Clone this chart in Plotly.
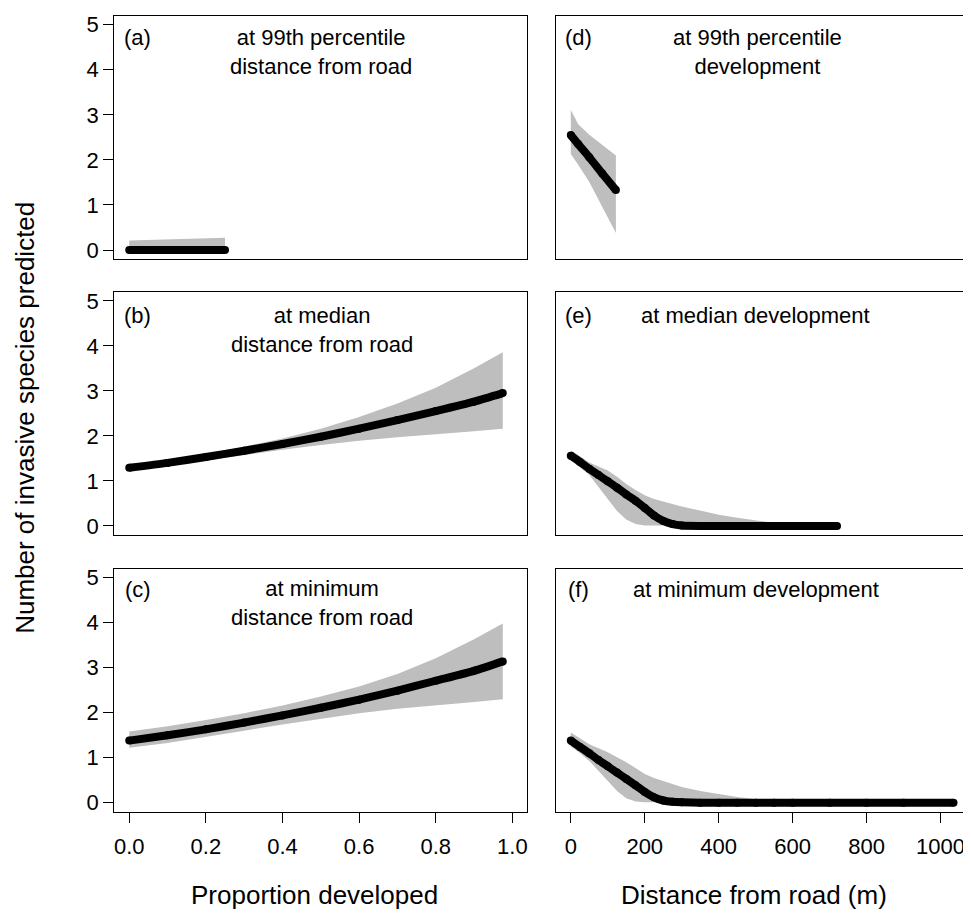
import plotly.graph_objects as go

# ---------------- data ----------------
# Left column: x = proportion developed
x_a = [0.0, 0.05, 0.10, 0.15, 0.20, 0.25]
fit_a = [0.0, 0.0, 0.0, 0.0, 0.0, 0.0]
up_a = [0.21, 0.22, 0.23, 0.245, 0.26, 0.275]
lo_a = [0.0, 0.0, 0.0, 0.0, 0.0, 0.0]

x_bc = [0.0, 0.1, 0.2, 0.3, 0.4, 0.5, 0.6, 0.7, 0.8, 0.9, 0.975]
fit_b = [1.29, 1.40, 1.53, 1.67, 1.82, 1.98, 2.16, 2.35, 2.55, 2.76, 2.95]
up_b = [1.36, 1.47, 1.60, 1.76, 1.94, 2.16, 2.42, 2.72, 3.07, 3.50, 3.86]
lo_b = [1.22, 1.33, 1.45, 1.57, 1.69, 1.80, 1.89, 1.97, 2.04, 2.10, 2.16]

fit_c = [1.38, 1.50, 1.63, 1.78, 1.94, 2.11, 2.29, 2.49, 2.71, 2.93, 3.14]
up_c = [1.58, 1.70, 1.84, 1.99, 2.16, 2.36, 2.58, 2.86, 3.21, 3.63, 3.98]
lo_c = [1.22, 1.33, 1.46, 1.60, 1.74, 1.87, 1.99, 2.09, 2.17, 2.24, 2.30]

# Right column: x = distance from road (m)
x_d = [0, 20, 50, 85, 122]
fit_d = [2.55, 2.35, 2.06, 1.70, 1.33]
up_d = [3.11, 2.79, 2.56, 2.33, 2.10]
lo_d = [2.13, 1.89, 1.51, 0.95, 0.38]

x_e = [0, 25, 50, 75, 100, 125, 150, 175, 200, 225, 250, 275, 300, 350, 400,
       450, 500, 550, 600, 650, 720]
fit_e = [1.56, 1.42, 1.27, 1.13, 0.99, 0.85, 0.70, 0.56, 0.40, 0.23, 0.11, 0.04,
         0.01, 0.0, 0.0, 0.0, 0.0, 0.0, 0.0, 0.0, 0.0]
up_e = [1.68, 1.55, 1.41, 1.32, 1.23, 1.09, 0.93, 0.80, 0.68, 0.60, 0.54, 0.48,
        0.43, 0.34, 0.25, 0.18, 0.12, 0.07, 0.04, 0.02, 0.01]
lo_e = [1.50, 1.30, 1.13, 0.88, 0.60, 0.33, 0.14, 0.04, 0.01, 0.0, 0.0, 0.0,
        0.0, 0.0, 0.0, 0.0, 0.0, 0.0, 0.0, 0.0, 0.0]

x_f = [0, 25, 50, 75, 100, 125, 150, 175, 200, 225, 250, 275, 300, 350, 400,
       450, 500, 550, 600, 700, 800, 900, 1035]
fit_f = [1.38, 1.24, 1.10, 0.95, 0.81, 0.67, 0.53, 0.39, 0.24, 0.12, 0.05, 0.02,
         0.01, 0.0, 0.0, 0.0, 0.0, 0.0, 0.0, 0.0, 0.0, 0.0, 0.0]
up_f = [1.56, 1.42, 1.30, 1.21, 1.12, 1.01, 0.90, 0.77, 0.64, 0.55, 0.48, 0.41,
        0.35, 0.26, 0.19, 0.13, 0.08, 0.05, 0.03, 0.01, 0.01, 0.01, 0.01]
lo_f = [1.25, 1.10, 0.93, 0.70, 0.48, 0.26, 0.10, 0.03, 0.01, 0.0, 0.0, 0.0,
        0.0, 0.0, 0.0, 0.0, 0.0, 0.0, 0.0, 0.0, 0.0, 0.0, 0.0]

panel_labels = ["(a)", "(b)", "(c)", "(d)", "(e)", "(f)"]
panel_titles = ["at 99th percentile<br>distance from road",
                "at median<br>distance from road",
                "at minimum<br>distance from road",
                "at 99th percentile<br>development",
                "at median development",
                "at minimum development"]
y_ticks = [0, 1, 2, 3, 4, 5]
x_ticks_left = [0.0, 0.2, 0.4, 0.6, 0.8, 1.0]
x_ticks_left_text = ["0.0", "0.2", "0.4", "0.6", "0.8", "1.0"]
x_ticks_right = [0, 200, 400, 600, 800, 1000]
y_title = "Number of invasive species predicted"
x_title_left = "Proportion developed"
x_title_right = "Distance from road (m)"

# ---------------- figure ----------------
PAGE_W, PAGE_H = 971, 913
OFF = 8                      # default page body margin
W, H = PAGE_W - OFF, PAGE_H - OFF
FONT = "Liberation Sans, Arial, sans-serif"
GRAY = "#BEBEBE"

panels = [
    (x_a, fit_a, up_a, lo_a),
    (x_bc, fit_b, up_b, lo_b),
    (x_bc, fit_c, up_c, lo_c),
    (x_d, fit_d, up_d, lo_d),
    (x_e, fit_e, up_e, lo_e),
    (x_f, fit_f, up_f, lo_f),
]

fig = go.Figure()
for i, (xs, fit, up, lo) in enumerate(panels):
    suffix = "" if i == 0 else str(i + 1)
    xa, ya = "x" + suffix, "y" + suffix
    fig.add_trace(go.Scatter(
        x=list(xs) + list(xs)[::-1], y=list(up) + list(lo)[::-1],
        fill="toself", fillcolor=GRAY, line=dict(width=0, color=GRAY),
        mode="lines", hoverinfo="skip", showlegend=False, xaxis=xa, yaxis=ya))
    fig.add_trace(go.Scatter(
        x=xs, y=fit, mode="lines+markers",
        line=dict(color="black", width=8, shape="spline", smoothing=0.6),
        marker=dict(color="black", size=8, line=dict(width=0)),
        showlegend=False, xaxis=xa, yaxis=ya))

# panel boxes in page pixels
col_x = [(114.3, 527.3), (556.0, 968.3)]
row_y = [(12.7, 258.0), (291.0, 536.0), (570.0, 815.0)]


def px_x(v):
    return (v - OFF) / W


def px_y(v):
    return 1 - (v - OFF) / H


tickfont = dict(family=FONT, size=22, color="black")
layout = dict(width=W, height=H, autosize=False,
              margin=dict(l=0, r=0, t=0, b=0),
              plot_bgcolor="white", paper_bgcolor="white",
              showlegend=False)

for i in range(6):
    col = 0 if i < 3 else 1
    row = i % 3
    suffix = "" if i == 0 else str(i + 1)
    x0, x1 = col_x[col]
    y0, y1 = row_y[row]
    xaxis = dict(domain=[px_x(x0), px_x(x1)], anchor="y" + suffix,
                 showline=True, mirror=True, linecolor="black", linewidth=1.3,
                 showgrid=False, zeroline=False, tickfont=tickfont,
                 range=[-0.039, 1.039] if col == 0 else [-40, 1075])
    if row == 2:
        if col == 0:
            xaxis.update(tickvals=x_ticks_left, ticktext=x_ticks_left_text)
        else:
            xaxis.update(tickvals=x_ticks_right)
        xaxis.update(ticks="outside", ticklen=10, tickwidth=1.3,
                     tickcolor="black", showticklabels=True,
                     ticklabelstandoff=5)
    else:
        xaxis.update(ticks="", showticklabels=False)
    yaxis = dict(domain=[px_y(y1), px_y(y0)], anchor="x" + suffix,
                 showline=True, mirror=True, linecolor="black", linewidth=1.3,
                 showgrid=False, zeroline=False, tickfont=tickfont,
                 range=[-0.2, 5.2])
    if col == 0:
        yaxis.update(tickvals=y_ticks, ticks="outside", ticklen=10,
                     tickwidth=1.3, tickcolor="black", showticklabels=True)
    else:
        yaxis.update(ticks="", showticklabels=False)
    layout["xaxis" + suffix] = xaxis
    layout["yaxis" + suffix] = yaxis

fig.update_layout(**layout)

ann_font = dict(family=FONT, size=22, color="black")
label_x = [137.5, 137.5, 137.5, 578, 578, 578]
label_y = [35, 315, 591, 35, 315, 591]
title_x = [320.5, 322, 322, 757, 755, 756]
title_y = [49.5, 329, 605, 49.5, 315, 591]
for i in range(6):
    fig.add_annotation(x=px_x(label_x[i]), y=px_y(label_y[i]), xref="paper",
                       yref="paper", text=panel_labels[i], showarrow=False,
                       xanchor="center", yanchor="middle", font=ann_font)
    fig.add_annotation(x=px_x(title_x[i]), y=px_y(title_y[i]), xref="paper",
                       yref="paper", text=panel_titles[i], showarrow=False,
                       xanchor="center", yanchor="middle", align="center",
                       font=ann_font)

title_font = dict(family=FONT, size=26, color="black")
fig.add_annotation(x=px_x(314), y=px_y(899), xref="paper", yref="paper",
                   text=x_title_left, showarrow=False, xanchor="center",
                   yanchor="middle", font=title_font)
fig.add_annotation(x=px_x(754), y=px_y(899), xref="paper", yref="paper",
                   text=x_title_right, showarrow=False, xanchor="center",
                   yanchor="middle", font=title_font)
fig.add_annotation(x=px_x(25), y=px_y(418), xref="paper", yref="paper",
                   text=y_title, showarrow=False, textangle=-90,
                   xanchor="center", yanchor="middle", font=title_font)

fig.write_html("out.html")
